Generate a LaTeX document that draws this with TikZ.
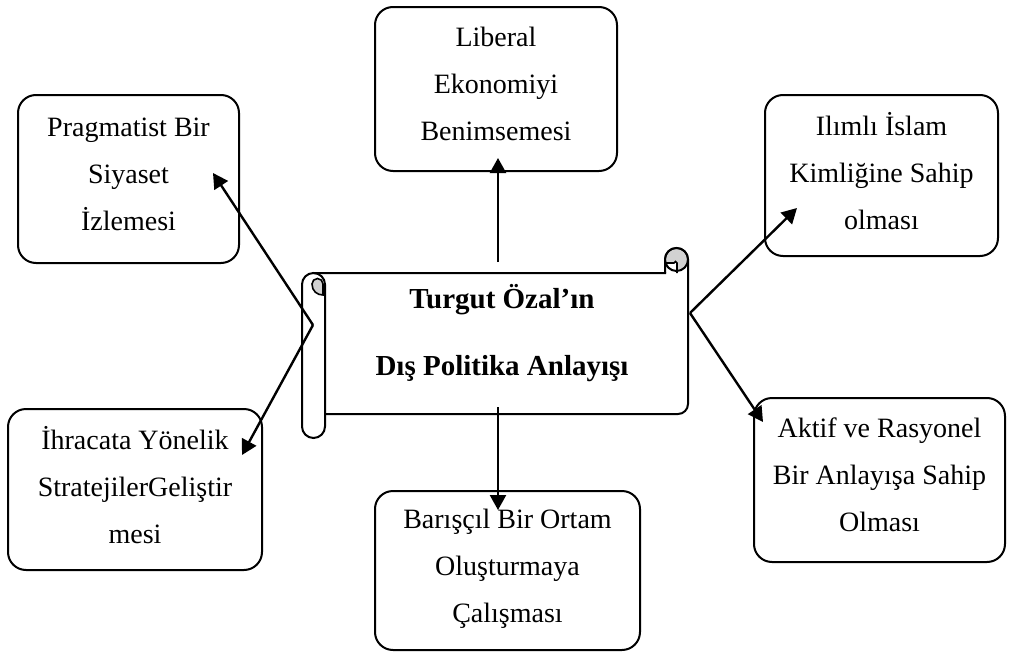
\documentclass[tikz,border=0pt]{standalone}
\usepackage{fontspec}
\setmainfont{Liberation Serif}
\usetikzlibrary{arrows.meta}

\begin{document}
\begin{tikzpicture}[x=0.5pt,y=0.5pt,
goal/.style={draw,line width=1pt,rounded corners=9pt,align=center,inner sep=0pt,
  text depth=5pt,font=\fontsize{14}{23.5}\selectfont},
link/.style={line width=1.2pt,-{Triangle[length=7.5pt,width=8pt]}}]
\useasboundingbox (0,0) rectangle (1009,-659);
% the scroll in the middle: page, left roll and the two curls
\draw[line width=1pt] (313.5,-273) -- (665,-273) -- (665,-259.5)
  arc[start angle=180,end angle=0,radius=11.5] -- (688,-404)
  arc[start angle=0,end angle=-90,radius=10] -- (325,-414);
\draw[line width=1pt] (302,-284.5) arc[start angle=180,end angle=0,radius=11.5]
  -- (325,-426.5) arc[start angle=0,end angle=-180,radius=11.5] -- cycle;
\filldraw[fill=gray!35,line width=0.8pt] (323,-295) -- (323,-284)
  arc[start angle=0,end angle=180,radius=5.5]
  .. controls (312,-291) and (317,-295) .. (323,-295) -- cycle;
\fill[gray!35] (676.5,-259.5) circle (10.5);
\fill[white] (666,-263) rectangle (677,-272);
\draw[line width=0.8pt] (666,-263) -- (674,-263) arc[start angle=180,end angle=0,radius=1.5] -- (677,-273);
\draw[line width=1pt] (665,-273) -- (665,-259.5) arc[start angle=180,end angle=-180,radius=11.5];
\node[font=\bfseries\fontsize{14.5}{33.5}\selectfont,align=center] (title) at (502,-333)
  {Turgut Özal’ın\\Dış Politika Anlayışı};
% the six boxes
\node[goal,minimum width=121pt,minimum height=82pt] (liberal) at (496,-89)
  {Liberal\\Ekonomiyi\\Benimsemesi};
\node[goal,minimum width=110.5pt,minimum height=84pt] (pragmatist) at (128.5,-179)
  {Pragmatist Bir\\Siyaset\\İzlemesi};
\node[goal,minimum width=116.5pt,minimum height=80.5pt] (ilimli) at (881.5,-175.5)
  {Ilımlı İslam\\Kimliğine Sahip\\olması};
\node[goal,minimum width=127pt,minimum height=80.5pt] (ihracat) at (135,-489.5)
  {İhracata Yönelik\\StratejilerGeliştir\\mesi};
\node[goal,minimum width=125.5pt,minimum height=82pt] (aktif) at (879.5,-480)
  {Aktif ve Rasyonel\\Bir Anlayışa Sahip\\Olması};
\node[goal,minimum width=132.5pt,minimum height=79.5pt] (baris) at (507.5,-570.5)
  {Barışçıl Bir Ortam\\Oluşturmaya\\Çalışması};
% arrows
\coordinate (upfoot) at (498,-262);
\coordinate (downfoot) at (498,-407);
\coordinate (lhub) at (313,-325);
\coordinate (rhub) at (690,-313);
\coordinate (pragtip) at (213,-173);
\coordinate (ihrtip) at (242,-455);
\coordinate (ilitip) at (797,-208);
\coordinate (akttip) at (763,-422);
\draw[link,shorten >=-7pt] (upfoot) -- (upfoot |- liberal.south);
\draw[link,shorten >=-10pt] (downfoot) -- (downfoot |- baris.north);
\draw[link] (lhub) -- (pragtip);
\draw[link] (lhub) -- (ihrtip);
\draw[link] (rhub) -- (ilitip);
\draw[link] (rhub) -- (akttip);
\end{tikzpicture}
\end{document}
